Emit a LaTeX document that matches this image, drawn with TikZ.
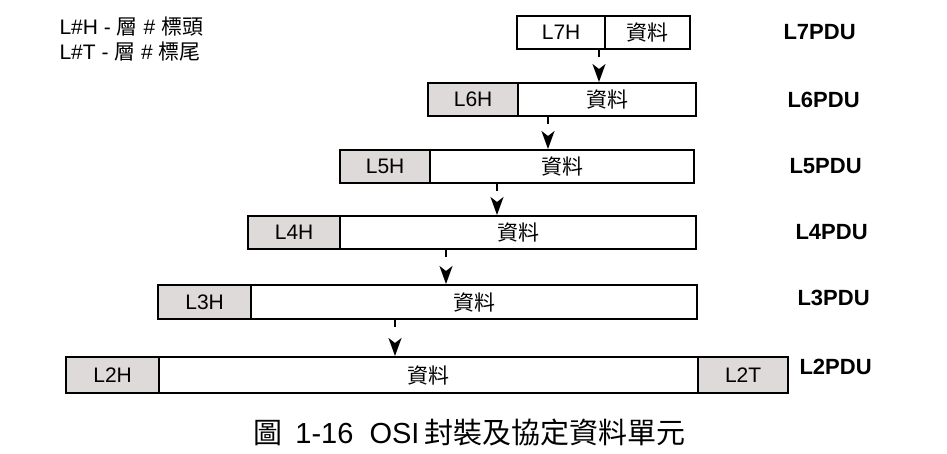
\documentclass[tikz,border=0pt]{standalone}
\usepackage{fontspec}
\setmainfont{Liberation Sans}
\newfontfamily\cjk{Noto Sans CJK TC}
\usetikzlibrary{arrows.meta}
\definecolor{hdrgrey}{HTML}{DEDADA}
\tikzset{
  cell/.style={draw=black, line width=2.2pt, inner sep=0pt, anchor=north west, font=\fontsize{21}{21}\selectfont},
  hdr/.style={cell, fill=hdrgrey},
  datc/.style={cell, fill=white},
  pdu/.style={font=\fontsize{22}{22}\selectfont\bfseries, anchor=west},
  arr/.style={line width=1.6pt, dash pattern=on 7pt off 40pt, -{Stealth[length=18pt,width=13pt,inset=5pt]}},
  legend/.style={font=\fontsize{21}{21}\selectfont, anchor=west}
}
\begin{document}
\begin{tikzpicture}[x=1pt,y=-1pt]
\useasboundingbox (0,0) rectangle (947,453);
% legend
\node[legend] (lg1) at (56,27) {L\#H - {\cjk 層} \# {\cjk 標頭}};
\node[legend] (lg2) at (56,52) {L\#T - {\cjk 層} \# {\cjk 標尾}};
% L7
\node[datc, minimum width=88pt, minimum height=33pt] (h7) at (516,15) {L7H};
\node[datc, minimum width=85pt, minimum height=33pt] (d7) at (604,15) {\cjk 資料};
\node[pdu] (p7) at (780,32) {L7PDU};
% L6
\node[hdr, minimum width=90pt, minimum height=33pt] (h6) at (427,82) {L6H};
\node[datc, minimum width=178pt, minimum height=33pt] (d6) at (517,82) {\cjk 資料};
\node[pdu] (p6) at (784,100) {L6PDU};
% L5
\node[hdr, minimum width=90pt, minimum height=33pt] (h5) at (339,149) {L5H};
\node[datc, minimum width=264pt, minimum height=33pt] (d5) at (429,149) {\cjk 資料};
\node[pdu] (p5) at (786,166) {L5PDU};
% L4
\node[hdr, minimum width=92pt, minimum height=33pt] (h4) at (247,215) {L4H};
\node[datc, minimum width=356pt, minimum height=33pt] (d4) at (339,215) {\cjk 資料};
\node[pdu] (p4) at (792,232) {L4PDU};
% L3
\node[hdr, minimum width=93pt, minimum height=34pt] (h3) at (157,284) {L3H};
\node[datc, minimum width=446pt, minimum height=34pt] (d3) at (250,284) {\cjk 資料};
\node[pdu] (p3) at (794,298) {L3PDU};
% L2
\node[hdr, minimum width=93pt, minimum height=36pt] (h2) at (65,356) {L2H};
\node[datc, minimum width=539pt, minimum height=36pt] (d2) at (158,356) {\cjk 資料};
\node[hdr, minimum width=90pt, minimum height=36pt] (t2) at (697,356) {L2T};
\node[pdu] (p2) at (796,367) {L2PDU};
% arrows
\draw[arr] (d7.south -| 599,0) -- (d6.north -| 599,0);
\draw[arr] (d6.south -| 548,0) -- (d5.north -| 548,0);
\draw[arr] (d5.south -| 497,0) -- (d4.north -| 497,0);
\draw[arr] (d4.south -| 446,0) -- (d3.north -| 446,0);
\draw[arr] (d3.south -| 395,0) -- (d2.north -| 395,0);
% caption
\node[font=\fontsize{29}{29}\selectfont, anchor=west] (cap) at (250,432) {{\cjk 圖}\, 1-16\ \ OSI\,{\cjk 封裝及協定資料單元}};
\end{tikzpicture}
\end{document}
